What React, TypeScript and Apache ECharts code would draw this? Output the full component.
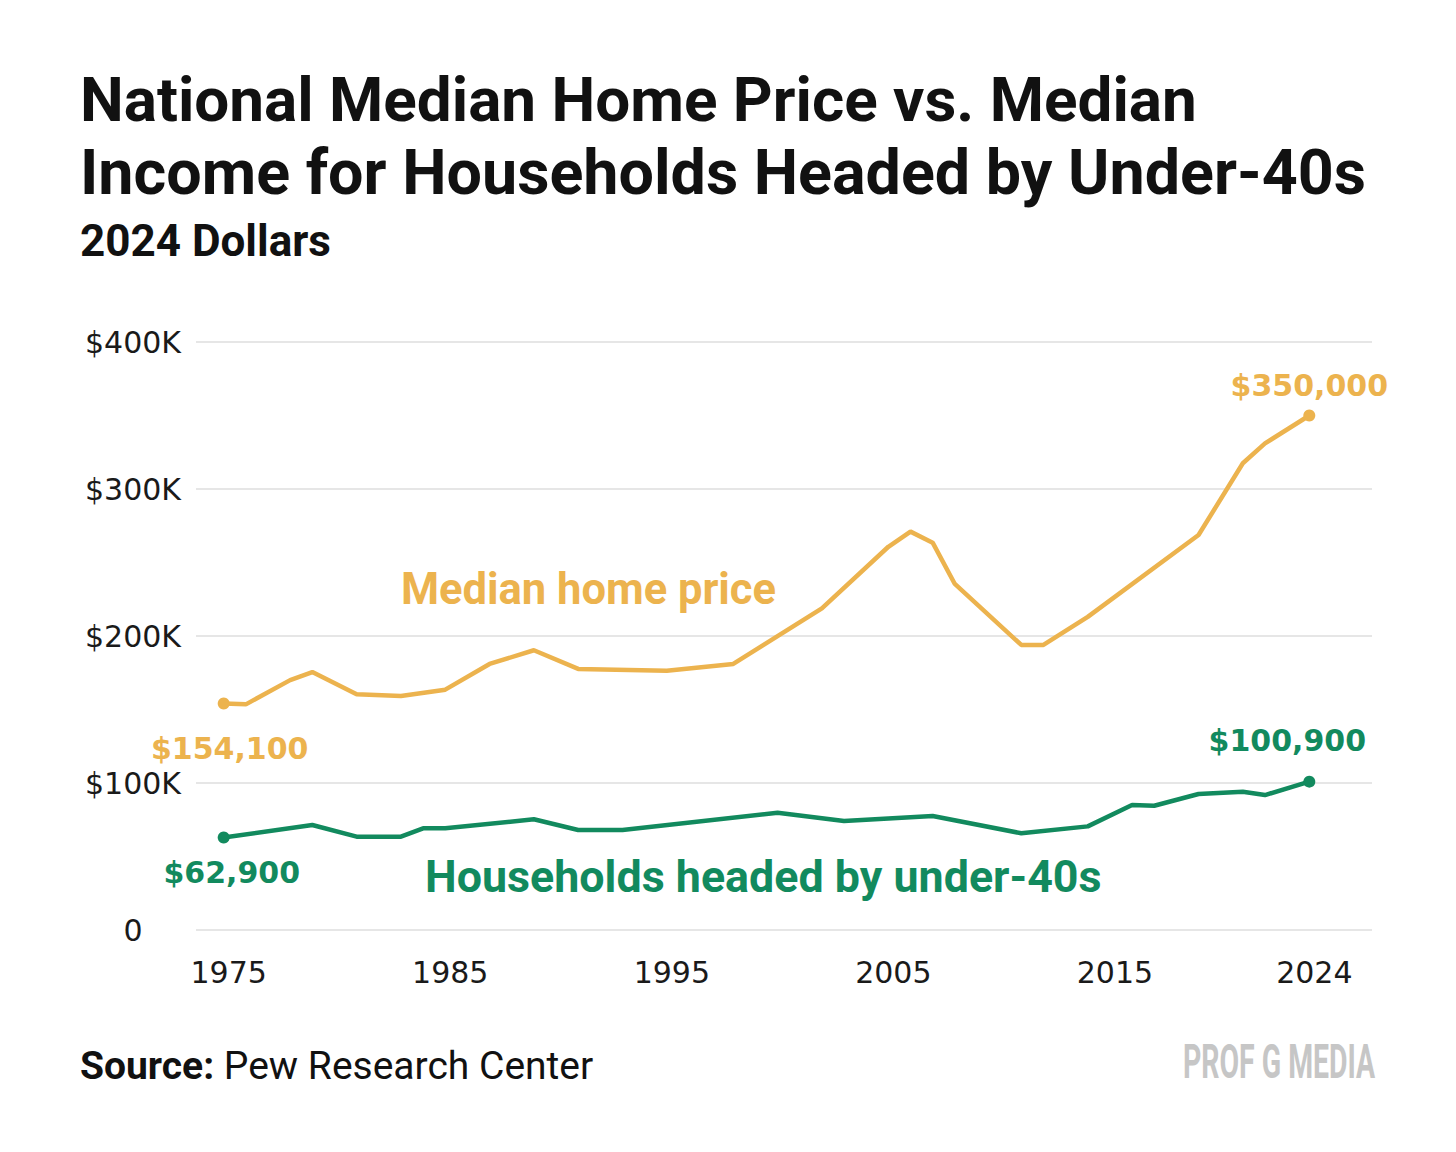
import React, { useEffect, useRef } from "react";
import * as echarts from "echarts";

// ---- data ----
const homeYears = [1975, 1976, 1978, 1979, 1981, 1983, 1985, 1987, 1989, 1991, 1995, 1998, 2002, 2005, 2006, 2007, 2008, 2011, 2012, 2014, 2019, 2021, 2022, 2024];
const homeValues = [154100, 153500, 170000, 175500, 160300, 159200, 163500, 181000, 190300, 177600, 176400, 181000, 218800, 260700, 271000, 263500, 235400, 193900, 193900, 213000, 268700, 317500, 331000, 350000];

const incomeYears = [1975, 1979, 1981, 1983, 1984, 1985, 1989, 1991, 1993, 2000, 2003, 2007, 2011, 2014, 2016, 2017, 2019, 2021, 2022, 2024];
const incomeValues = [62900, 71400, 63500, 63500, 69200, 69200, 75300, 68000, 68000, 79800, 74100, 77600, 65800, 70500, 85000, 84500, 92500, 94100, 91800, 100900];

const xTickYears = [1975, 1985, 1995, 2005, 2015, 2024];
const yTickStep = 100000;
const yMax = 400000;

const titleLines = ["National Median Home Price vs. Median", "Income for Households Headed by Under-40s"];
const subtitle = "2024 Dollars";
const homeLabel = "Median home price";
const incomeLabel = "Households headed by under-40s";
const sourceBold = "Source:";
const sourceText = "Pew Research Center";
const brand = "PROF G MEDIA";

const ORANGE = "#ECB34E";
const GREEN = "#128A5E";

const fmtMoney = (v: number) => "$" + v.toLocaleString("en-US");

function buildData(years: number[], values: number[], color: string, first: any, last: any) {
  const n = years.length;
  return years.map((y, i) => {
    const isEnd = i === 0 || i === n - 1;
    const item: any = { value: [y, values[i]], symbolSize: isEnd ? 12 : 0 };
    if (isEnd) {
      const cfg = i === 0 ? first : last;
      item.label = {
        show: true,
        formatter: fmtMoney(values[i]),
        color,
        fontFamily: "DejaVu Sans",
        fontWeight: "bold",
        fontSize: 30,
        ...cfg,
      };
    }
    return item;
  });
}

export default function App() {
  const ref = useRef<HTMLDivElement>(null);
  useEffect(() => {
    document.body.style.margin = "0";
    if (!ref.current) return;
    const chart = echarts.init(ref.current, undefined, { renderer: "svg" });
    const option: any = {
      animation: false,
      backgroundColor: "#ffffff",
      grid: { left: 196, right: 84, top: 342, bottom: 222 },
      xAxis: {
        type: "value",
        min: 1973.75,
        max: 2026.83,
        axisLine: { show: false },
        axisTick: { show: false },
        splitLine: { show: false },
        axisLabel: {
          customValues: xTickYears,
          formatter: (v: number) => String(v),
          color: "#1a1a1a",
          fontFamily: "DejaVu Sans",
          fontSize: 30,
          margin: 27,
          padding: [0, 0, 0, 10],
        },
      },
      yAxis: {
        type: "value",
        min: 0,
        max: yMax,
        interval: yTickStep,
        axisLine: { show: false },
        axisTick: { show: false },
        splitLine: { show: true, lineStyle: { color: "#e6e6e6", width: 2 } },
        axisLabel: {
          formatter: (v: number) => (v === 0 ? "0" : "$" + v / 1000 + "K"),
          color: "#1a1a1a",
          fontFamily: "DejaVu Sans",
          fontSize: 30,
          align: "center",
          margin: 63,
        },
      },
      series: [
        {
          type: "line",
          name: homeLabel,
          symbol: "circle",
          showSymbol: true,
          lineStyle: { color: ORANGE, width: 4.5 },
          itemStyle: { color: ORANGE },
          emphasis: { disabled: true },
          data: buildData(homeYears, homeValues, ORANGE,
            { position: "bottom", distance: 24, offset: [6, 0] },
            { position: "top", distance: 9, offset: [0, 0] }),
        },
        {
          type: "line",
          name: incomeLabel,
          symbol: "circle",
          showSymbol: true,
          lineStyle: { color: GREEN, width: 4.5 },
          itemStyle: { color: GREEN },
          emphasis: { disabled: true },
          data: buildData(incomeYears, incomeValues, GREEN,
            { position: "bottom", distance: 14, offset: [8, 0] },
            { position: "top", distance: 20, offset: [-22, 0] }),
        },
      ],
      graphic: [
        {
          type: "text", x: 80, y: 99,
          style: { text: titleLines[0], fill: "#111", font: "bold 62px Roboto", align: "left", verticalAlign: "middle" },
        },
        {
          type: "text", x: 80, y: 172,
          style: { text: titleLines[1], fill: "#111", font: "bold 62.8px Roboto", align: "left", verticalAlign: "middle" },
        },
        {
          type: "text", x: 80, y: 241,
          style: { text: subtitle, fill: "#111", font: "bold 44px Roboto", align: "left", verticalAlign: "middle" },
        },
        {
          type: "text", x: 401, y: 589,
          style: { text: homeLabel, fill: ORANGE, font: "bold 43.5px Roboto", align: "left", verticalAlign: "middle" },
        },
        {
          type: "text", x: 425, y: 876,
          style: { text: incomeLabel, fill: GREEN, font: "bold 44.8px Roboto", align: "left", verticalAlign: "middle" },
        },
        {
          type: "text", x: 80, y: 1066,
          style: {
            text: "{b|" + sourceBold + "} " + sourceText,
            fill: "#111",
            font: "39px Roboto",
            align: "left",
            verticalAlign: "middle",
            rich: { b: { fontWeight: "bold", fontSize: 39, fontFamily: "Roboto", fill: "#111" } },
          },
        },
        {
          type: "text", x: 1183, y: 1061, scaleX: 0.58,
          style: { text: brand, fill: "#c6c6c6", font: "bold 49px Roboto", align: "left", verticalAlign: "middle" },
        },
      ],
    };
    chart.setOption(option);
    return () => chart.dispose();
  }, []);
  return <div ref={ref} style={{ width: 1456, height: 1152 }} />;
}
